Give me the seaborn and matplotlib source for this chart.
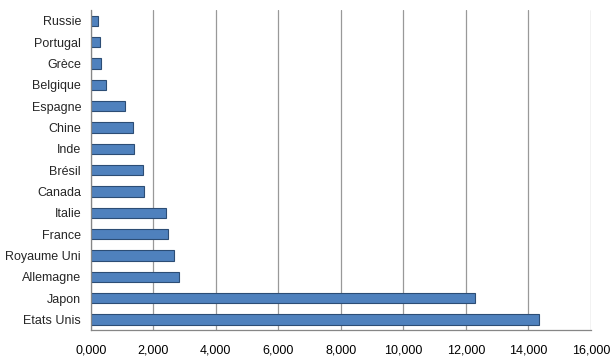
import matplotlib
matplotlib.use("Agg")
import matplotlib.pyplot as plt
import seaborn as sns
import pandas as pd
from matplotlib.ticker import FixedLocator

countries = ["Russie", "Portugal", "Grèce", "Belgique", "Espagne", "Chine", "Inde",
             "Brésil", "Canada", "Italie", "France", "Royaume Uni", "Allemagne",
             "Japon", "Etats Unis"]
values = [235, 310, 330, 500, 1100, 1340, 1380, 1680, 1700, 2410, 2480, 2650, 2820,
          12280, 14350]
xticks = [0, 2000, 4000, 6000, 8000, 10000, 12000, 14000, 16000]
xticklabels = ["0,000", "2,000", "4,000", "6,000", "8,000", "10,000", "12,000",
               "14,000", "16,000"]

df = pd.DataFrame({"pays": countries, "valeur": values})

sns.set_style("white")
plt.rcParams["font.family"] = ["Liberation Sans", "DejaVu Sans"]

fig = plt.figure(figsize=(6.13, 3.62), dpi=100)
ax = fig.add_axes([0.148, 0.088, 0.816, 0.884])

sns.barplot(data=df, y="pays", x="valeur", orient="h", color="#4F81BD",
            edgecolor="#2C4D75", linewidth=0.8, width=0.48, saturation=1, ax=ax)

ax.set_xlim(0, 16000)
ax.set_ylim(14.5, -0.5)
ax.set_xticks(xticks)
ax.set_xticklabels(xticklabels, fontsize=9, color="#000000")
ax.tick_params(axis="x", length=3, width=0.8, color="#868686", pad=7)
ax.tick_params(axis="y", which="major", length=0, pad=7, labelsize=9)
ax.yaxis.set_minor_locator(FixedLocator([i - 0.5 for i in range(len(countries) + 1)]))
ax.tick_params(axis="y", which="minor", length=3, width=0.8, color="#868686")
ax.xaxis.grid(True, color="#999999", linewidth=0.9)
ax.set_axisbelow(True)
ax.set_xlabel("")
ax.set_ylabel("")
for s in ["top", "right"]:
    ax.spines[s].set_visible(False)
for s in ["left", "bottom"]:
    ax.spines[s].set_color("#868686")
    ax.spines[s].set_linewidth(0.9)

fig.savefig("out.png", dpi=100)
